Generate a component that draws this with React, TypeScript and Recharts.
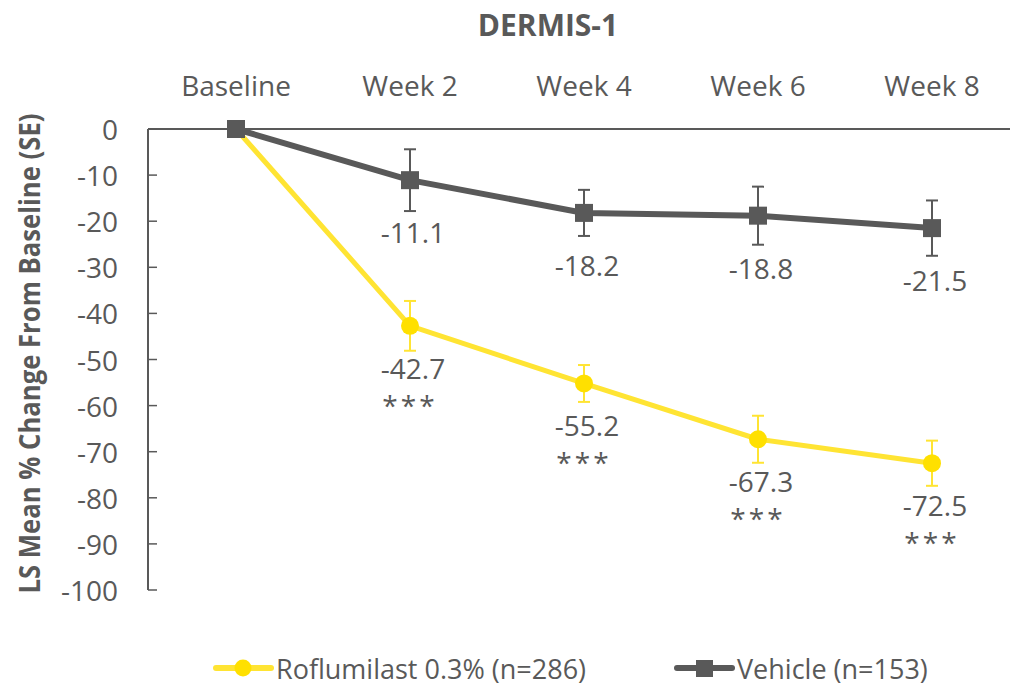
import { ErrorBar, LabelList, Line, LineChart, XAxis, YAxis } from "recharts";

const weeks = ["Baseline", "Week 2", "Week 4", "Week 6", "Week 8"];
const roflumilast = [0, -42.7, -55.2, -67.3, -72.5];
const roflumilastSE = [null, 5.4, 4.0, 5.1, 4.9];
const vehicle = [0, -11.1, -18.2, -18.8, -21.5];
const vehicleSE = [null, 6.7, 5.0, 6.3, 6.0];
const significance = ["", "***", "***", "***", "***"];
const yTicks = [0, -10, -20, -30, -40, -50, -60, -70, -80, -90, -100];

const data = weeks.map((week, i) => ({
  week,
  rof: roflumilast[i],
  rofSE: roflumilastSE[i],
  veh: vehicle[i],
  vehSE: vehicleSE[i],
  sig: significance[i],
}));

const GRAY = "#595959";
const YELLOW = "#FFE000";
const YELLOW_LINE = "#FFE433";
const FONT = "'Open Sans', 'Noto Sans', sans-serif";

const W = 1010;
const H = 686;
const AXIS_X = 148; // y axis width = plot left
const PLOT_TOP = 129;
const PLOT_BOTTOM = 590;

function XTick({ x, payload }: any) {
  return (
    <text
      x={x}
      y={PLOT_TOP - 44}
      textAnchor="middle"
      dominantBaseline="central"
      fontSize={28}
      fontFamily={FONT}
      fill={GRAY}
    >
      {payload.value}
    </text>
  );
}

function YTick({ y, payload }: any) {
  return (
    <g>
      <line x1={AXIS_X} x2={AXIS_X + 9} y1={y} y2={y} stroke={GRAY} strokeWidth={1.5} />
      <text
        x={AXIS_X - 30}
        y={y}
        textAnchor="end"
        dominantBaseline="central"
        fontSize={28}
        fontFamily={FONT}
        fill={GRAY}
      >
        {payload.value}
      </text>
    </g>
  );
}

function SquareDot({ cx, cy, index }: any) {
  if (cx == null || cy == null) return null;
  return <rect key={`v${index}`} x={cx - 9} y={cy - 9} width={18} height={18} fill={GRAY} />;
}

function CircleDot({ cx, cy, index }: any) {
  if (cx == null || cy == null) return null;
  return <circle key={`r${index}`} cx={cx} cy={cy} r={9} fill={YELLOW} />;
}

function vehLabel({ x, y, value, index }: any) {
  if (!value) return null;
  return (
    <text
      key={`vl${index}`}
      x={x + 3}
      y={y + 52}
      textAnchor="middle"
      dominantBaseline="central"
      fontSize={28}
      fontFamily={FONT}
      fill={GRAY}
    >
      {value}
    </text>
  );
}

function rofLabel({ x, y, value, index }: any) {
  if (!value) return null;
  return (
    <g key={`rl${index}`}>
      <text
        x={x + 3}
        y={y + 42}
        textAnchor="middle"
        dominantBaseline="central"
        fontSize={28}
        fontFamily={FONT}
        fill={GRAY}
      >
        {value}
      </text>
      <text
        x={x}
        y={y + 79}
        textAnchor="middle"
        dominantBaseline="central"
        fontSize={28}
        letterSpacing={3}
        fontFamily={FONT}
        fill={GRAY}
      >
        {data[index].sig}
      </text>
    </g>
  );
}

export default function App() {
  return (
    <div
      style={{
        position: "fixed",
        left: 0,
        top: 0,
        width: W,
        height: H,
        overflow: "hidden",
        background: "#fff",
        fontFamily: FONT,
      }}
    >
      <div
        style={{
          position: "absolute",
          left: 0,
          width: 1096,
          top: 6,
          textAlign: "center",
          fontSize: 30,
          fontWeight: 700,
          color: GRAY,
          lineHeight: "38px",
        }}
      >
        DERMIS-1
      </div>

      <LineChart
        width={W}
        height={H}
        data={data}
        margin={{ top: 0, right: 0, left: 0, bottom: H - PLOT_BOTTOM }}
      >
        <XAxis
          dataKey="week"
          orientation="top"
          height={PLOT_TOP}
          padding={{ left: 88, right: 78 }}
          axisLine={{ stroke: GRAY, strokeWidth: 2 }}
          tickLine={false}
          tick={<XTick />}
          interval={0}
        />
        <YAxis
          domain={[-100, 0]}
          ticks={yTicks}
          interval={0}
          width={AXIS_X}
          axisLine={{ stroke: GRAY, strokeWidth: 2 }}
          tickLine={false}
          tick={<YTick />}
          label={{
            content: () => (
              <text
                x={29}
                y={(PLOT_TOP + PLOT_BOTTOM) / 2 - 6}
                transform={`rotate(-90 29 ${(PLOT_TOP + PLOT_BOTTOM) / 2 - 6})`}
                textAnchor="middle"
                dominantBaseline="central"
                fontSize={28}
                fontWeight={700}
                fontFamily={FONT}
                fill={GRAY}
                textLength={480}
                lengthAdjust="spacingAndGlyphs"
              >
                LS Mean % Change From Baseline (SE)
              </text>
            ),
          }}
        />
        <Line
          dataKey="rof"
          stroke={YELLOW_LINE}
          strokeWidth={5}
          dot={CircleDot}
          activeDot={false}
          isAnimationActive={false}
        >
          <ErrorBar dataKey="rofSE" width={6} stroke={YELLOW_LINE} strokeWidth={2} />
          <LabelList dataKey="rof" content={rofLabel} />
        </Line>
        <Line
          dataKey="veh"
          stroke={GRAY}
          strokeWidth={6}
          dot={SquareDot}
          activeDot={false}
          isAnimationActive={false}
        >
          <ErrorBar dataKey="vehSE" width={6} stroke={GRAY} strokeWidth={2} />
          <LabelList dataKey="veh" content={vehLabel} />
        </Line>
      </LineChart>

      <svg
        width={W}
        height={36}
        style={{ position: "absolute", left: 0, top: 650 }}
      >
        <line x1={216} x2={271} y1={18} y2={18} stroke={YELLOW_LINE} strokeWidth={6} strokeLinecap="round" />
        <circle cx={243} cy={18} r={8.5} fill={YELLOW} />
        <text x={276} y={18} dominantBaseline="central" fontSize={27} fontFamily={FONT} fill={GRAY}>
          Roflumilast 0.3% (n=286)
        </text>
        <line x1={677} x2={732} y1={18} y2={18} stroke={GRAY} strokeWidth={6} strokeLinecap="round" />
        <rect x={696} y={10} width={17} height={17} fill={GRAY} />
        <text x={737} y={18} dominantBaseline="central" fontSize={27} fontFamily={FONT} fill={GRAY}>
          Vehicle (n=153)
        </text>
      </svg>
    </div>
  );
}
